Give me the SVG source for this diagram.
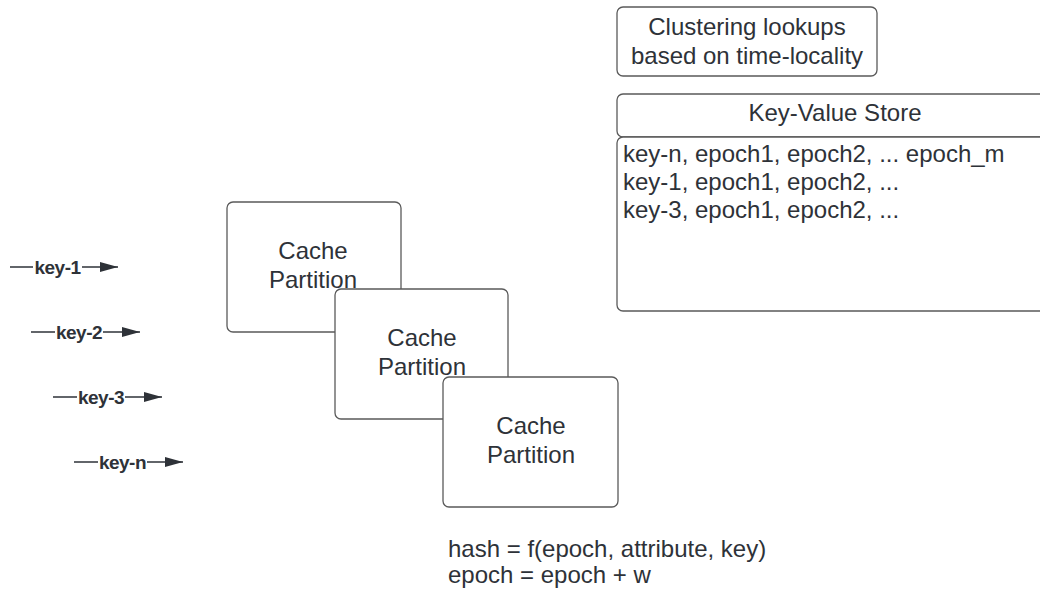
<svg xmlns="http://www.w3.org/2000/svg" width="1040" height="592" viewBox="0 0 1040 592">
<style>
.box{fill:#fff;stroke:#5a5a5a;stroke-width:1.3}
.t{font-family:"Liberation Sans",Arial,sans-serif;font-size:24px;fill:#2e3238}
.c{text-anchor:middle}
.lbl{font-family:"Liberation Sans",Arial,sans-serif;font-size:19px;font-weight:bold;fill:#2e3238;text-anchor:middle;letter-spacing:-0.5px}
.ln{stroke:#2e3238;stroke-width:1.5;fill:none}
.bg{fill:#fff}
</style>
<defs>
<marker id="ah" viewBox="0 0 18 10" refX="18" refY="5" markerWidth="18" markerHeight="10" markerUnits="userSpaceOnUse" orient="auto">
<path d="M0,0 L18,5 L0,10 Z" fill="#2e3238"/>
</marker>
</defs>
<g id="connectors">
<g id="c1"><path class="ln" d="M10,267 H118" marker-end="url(#ah)"/><rect class="bg" x="33" y="257" width="49" height="20"/><text class="lbl" x="57.5" y="274">key-1</text></g>
<g id="c2"><path class="ln" d="M31,332 H140" marker-end="url(#ah)"/><rect class="bg" x="55" y="322" width="48" height="20"/><text class="lbl" x="79" y="339">key-2</text></g>
<g id="c3"><path class="ln" d="M53,397 H162" marker-end="url(#ah)"/><rect class="bg" x="77" y="387" width="48" height="20"/><text class="lbl" x="101" y="404">key-3</text></g>
<g id="c4"><path class="ln" d="M74,462 H183" marker-end="url(#ah)"/><rect class="bg" x="98" y="452" width="49" height="20"/><text class="lbl" x="122.5" y="469">key-n</text></g>
</g>
<g id="cache1"><rect class="box" x="227" y="202" width="174" height="130" rx="6"/><text class="t c" x="313" y="259">Cache</text><text class="t c" x="313" y="288">Partition</text></g>
<g id="cache2"><rect class="box" x="335" y="289" width="173" height="130" rx="6"/><text class="t c" x="422" y="346">Cache</text><text class="t c" x="422" y="375">Partition</text></g>
<g id="cache3"><rect class="box" x="443" y="377" width="175" height="130" rx="6"/><text class="t c" x="531" y="434">Cache</text><text class="t c" x="531" y="463">Partition</text></g>
<g id="clustering"><rect class="box" x="617" y="7" width="260" height="69" rx="6"/><text class="t c" x="747" y="35">Clustering lookups</text><text class="t c" x="747" y="64">based on time-locality</text></g>
<g id="kvheader"><rect class="box" x="617" y="94" width="440" height="43" rx="6"/><text class="t c" x="835" y="121">Key-Value Store</text></g>
<g id="kvbody"><rect class="box" x="617" y="137" width="440" height="174" rx="6"/>
<text class="t" x="623" y="162">key-n, epoch1, epoch2, ... epoch_m</text>
<text class="t" x="623" y="190">key-1, epoch1, epoch2, ...</text>
<text class="t" x="623" y="218">key-3, epoch1, epoch2, ...</text></g>
<g id="formula"><text class="t" x="448" y="557">hash = f(epoch, attribute, key)</text><text class="t" x="448" y="583">epoch = epoch + w</text></g>
</svg>
